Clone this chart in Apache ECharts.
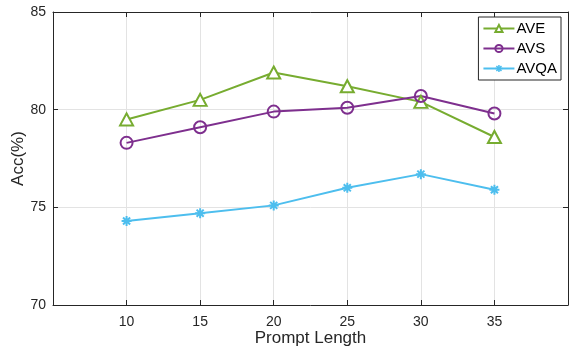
<!DOCTYPE html>
<html><head><meta charset="utf-8">
<script src="https://cdn.jsdelivr.net/npm/echarts@6/dist/echarts.min.js"></script>
<style>html,body{margin:0;padding:0;background:#fff}#c{width:569px;height:347px}</style>
</head><body><div id="c"></div>
<script>
const promptLengths = [10, 15, 20, 25, 30, 35];
const ave = [79.5, 80.5, 81.9, 81.2, 80.4, 78.6];
const avs = [78.3, 79.1, 79.9, 80.1, 80.7, 79.8];
const avqa = [74.3, 74.7, 75.1, 76.0, 76.7, 75.9];
const yTicks = [70, 75, 80, 85];

const font = 'Liberation Sans, Arial, Helvetica, sans-serif';
const axisCol = '#262626';
const asterisk = 'path://M0,-1L0,1M-1,0L1,0M-0.707,-0.707L0.707,0.707M-0.707,0.707L0.707,-0.707';

function pairs(vals){ return promptLengths.map((x,i)=>[x, vals[i]]); }

const chart = echarts.init(document.getElementById('c'), null, {renderer:'canvas'});
const baseX = {
  type:'value', min:5, max:40, interval:5,
  axisLine:{show:true, lineStyle:{color:axisCol, width:1}},
  axisTick:{show:true, inside:true, length:5, lineStyle:{color:axisCol}},
  splitLine:{show:false}
};
const baseY = {
  type:'value', min:70, max:85, interval:5,
  axisLine:{show:true, lineStyle:{color:axisCol, width:1}},
  axisTick:{show:true, inside:true, length:5, lineStyle:{color:axisCol}},
  splitLine:{show:false}
};
chart.setOption({
  animation:false,
  grid:{left:53, right:1, top:12, bottom:42, containLabel:false, outerBoundsMode:'none'},
  legend:{
    right:8, top:17, orient:'vertical', itemGap:5,
    backgroundColor:'#fff', borderColor:axisCol, borderWidth:1, borderRadius:0,
    padding:[4,4,4,4], itemWidth:31, itemHeight:9,
    textStyle:{fontFamily:font, fontSize:15, color:'#000', padding:[0,0,0,-3]},
    data:['AVE','AVS',
      {name:'AVQA', itemStyle:{color:'none', borderColor:'#4DBEEE', borderWidth:1.5}}]
  },
  xAxis:[
    Object.assign({}, baseX, {
      position:'bottom',
      name:'Prompt Length', nameLocation:'middle', nameGap:25, nameMoveOverlap:false,
      nameTextStyle:{fontFamily:font, fontSize:17, color:axisCol},
      axisLabel:{fontFamily:font, fontSize:14, color:axisCol, margin:10,
        formatter:v=> promptLengths.indexOf(v)>=0 ? String(v) : ''},
      splitLine:{show:true, lineStyle:{color:'#e3e3e3', width:1}}
    }),
    Object.assign({}, baseX, {position:'top', axisLabel:{show:false}})
  ],
  yAxis:[
    Object.assign({}, baseY, {
      position:'left',
      name:'Acc(%)', nameLocation:'middle', nameGap:26, nameMoveOverlap:false,
      nameTextStyle:{fontFamily:font, fontSize:17, color:axisCol},
      axisLabel:{fontFamily:font, fontSize:14, color:axisCol, margin:7,
        formatter:v=> yTicks.indexOf(v)>=0 ? String(v) : ''},
      splitLine:{show:true, lineStyle:{color:'#e3e3e3', width:1}}
    }),
    Object.assign({}, baseY, {position:'right', axisLabel:{show:false}})
  ],
  series:[
    {name:'AVE', type:'line', data:pairs(ave), symbol:'triangle', symbolSize:[13,12],
     lineStyle:{color:'#77AC30', width:2}, color:'#77AC30',
     itemStyle:{color:'#fff', borderColor:'#77AC30', borderWidth:2}},
    {name:'AVS', type:'line', data:pairs(avs), symbol:'circle', symbolSize:12,
     lineStyle:{color:'#7E2F8E', width:2}, color:'#7E2F8E',
     itemStyle:{color:'rgba(255,255,255,0)', borderColor:'#7E2F8E', borderWidth:2}},
    {name:'AVQA', type:'line', data:pairs(avqa), symbol:asterisk, symbolSize:10,
     lineStyle:{color:'#4DBEEE', width:2}, color:'#4DBEEE',
     itemStyle:{color:'none', borderColor:'#4DBEEE', borderWidth:2}}
  ]
});
</script></body></html>
